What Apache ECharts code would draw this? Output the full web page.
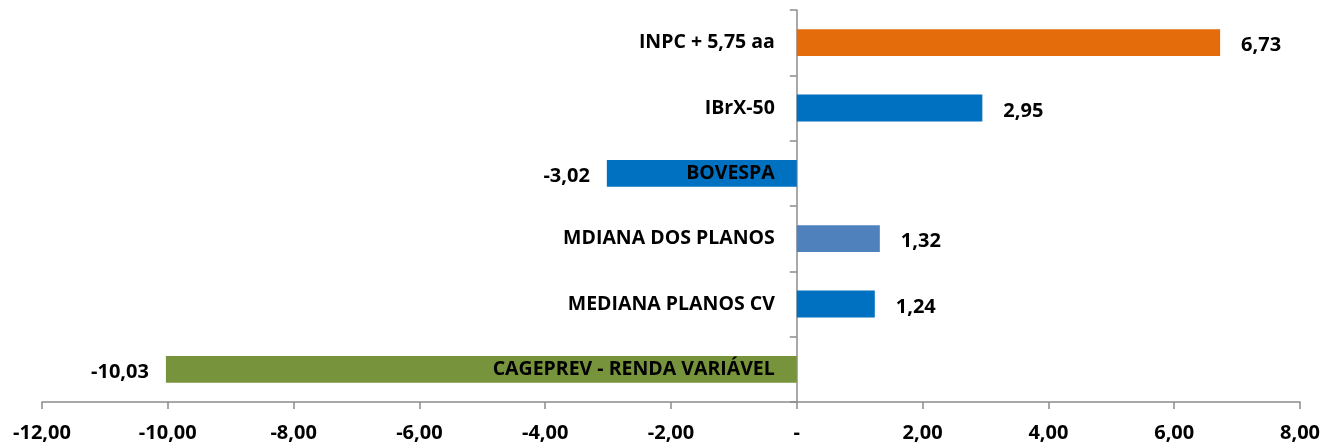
<!DOCTYPE html>
<html>
<head>
<meta charset="utf-8">
<script src="https://cdn.jsdelivr.net/npm/echarts@6/dist/echarts.min.js"></script>
<style>
	html, body { margin: 0; padding: 0; background: #fff; }
	#chart { width: 1325px; height: 444px; }
</style>
</head>
<body>
<div id="chart"></div>
<script>
	// categorias de cima para baixo
	var categories = ['INPC + 5,75 aa', 'IBrX-50', 'BOVESPA', 'MDIANA DOS PLANOS', 'MEDIANA PLANOS CV', 'CAGEPREV - RENDA VARIÁVEL'];
	var values = [6.73, 2.95, -3.02, 1.32, 1.24, -10.03];
	var barColors = ['#E46C0A', '#0070C0', '#0070C0', '#4F81BD', '#0070C0', '#77933C'];
	var xTicks = [-12, -10, -8, -6, -4, -2, 0, 2, 4, 6, 8];

	var fmt = function (v) {
		return v === 0 ? '-' : v.toFixed(2).replace('.', ',');
	};
	var font = 'Open Sans';

	var seriesData = values.map(function (v, i) {
		return {
			value: v,
			itemStyle: { color: barColors[i] },
			label: v < 0
				? { position: 'left', distance: 17 }
				: { position: 'right', distance: 21 }
		};
	});
	// serie auxiliar so para os nomes junto ao eixo zero
	var nameData = categories.map(function () { return 0; });

	var myChart = echarts.init(document.getElementById('chart'));
	myChart.setOption({
		animation: false,
		grid: { left: 42, right: 25, top: 10, bottom: 42, outerBoundsMode: 'none' },
		xAxis: {
			type: 'value',
			min: xTicks[0],
			max: xTicks[xTicks.length - 1],
			interval: 2,
			splitLine: { show: false },
			axisLine: { show: true, lineStyle: { color: '#8c8c8c', width: 1.5 } },
			axisTick: { show: true, length: 7, lineStyle: { color: '#8c8c8c', width: 1.5 } },
			axisLabel: {
				formatter: fmt,
				margin: 21,
				color: '#000',
				fontWeight: 'bold',
				fontSize: 20,
				fontFamily: font
			}
		},
		yAxis: {
			type: 'category',
			inverse: true,
			data: categories,
			axisLine: { show: true, onZero: true, lineStyle: { color: '#8c8c8c', width: 1.5 } },
			axisTick: { show: true, length: 7, lineStyle: { color: '#8c8c8c', width: 1.5 } },
			axisLabel: { show: false }
		},
		series: [{
			type: 'bar',
			data: seriesData,
			barCategoryGap: '59%',
			z: 1,
			label: {
				show: true,
				formatter: function (p) { return fmt(p.value); },
				offset: [0, 3],
				color: '#000',
				fontWeight: 'bold',
				fontSize: 20,
				fontFamily: font
			}
		}, {
			type: 'bar',
			data: nameData,
			barGap: '-100%',
			barCategoryGap: '59%',
			z: 3,
			itemStyle: { color: 'transparent' },
			label: {
				show: true,
				position: 'left',
				distance: 22,
				formatter: function (p) { return categories[p.dataIndex]; },
				color: '#000',
				fontWeight: 'bold',
				fontSize: 19.5,
				fontFamily: font
			}
		}]
	});
</script>
</body>
</html>
